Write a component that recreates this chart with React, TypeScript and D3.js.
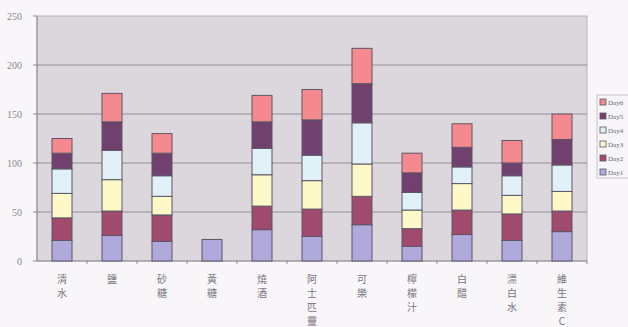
import React from "react";
import * as d3 from "d3";

const categories = ["清水", "鹽", "砂糖", "黃糖", "燒酒", "阿士匹靈", "可樂", "檸檬汁", "白醋", "漂白水", "維生素C"];
const seriesNames = ["Day1", "Day2", "Day3", "Day4", "Day5", "Day6"];
const day1 = [21, 26, 20, 22, 32, 25, 37, 15, 27, 21, 30];
const day2 = [23, 25, 27, 0, 24, 28, 29, 18, 25, 27, 21];
const day3 = [25, 32, 19, 0, 32, 29, 33, 19, 27, 19, 20];
const day4 = [25, 30, 21, 0, 27, 26, 42, 18, 17, 20, 27];
const day5 = [16, 29, 23, 0, 27, 36, 40, 20, 20, 13, 26];
const day6 = [15, 29, 20, 0, 27, 31, 36, 20, 24, 23, 26];
const yTicks = [0, 50, 100, 150, 200, 250];
const colors = ["#b0a9dc", "#a04a6e", "#fdf9c9", "#e0f1f8", "#70406e", "#f48a90"];

const W = 628;
const H = 327;
const plot = { left: 37, right: 587, top: 16, bottom: 261 };

export default function App() {
  const series = [day1, day2, day3, day4, day5, day6];
  const rows = categories.map((c, i) => {
    const r: Record<string, number | string> = { cat: c };
    seriesNames.forEach((s, k) => (r[s] = series[k][i]));
    return r;
  });
  const stacked = d3.stack<any>().keys(seriesNames)(rows);

  const x = d3.scaleBand<string>().domain(categories).range([plot.left, plot.right]).paddingInner(0.6).paddingOuter(0.3);
  const y = d3.scaleLinear().domain([0, 250]).range([plot.bottom, plot.top]);
  const step = x.step();

  return (
    <svg
      width={W}
      height={H}
      style={{ position: "fixed", left: 0, top: 0, background: "#f8f6f8" }}
      fontFamily="'Liberation Serif', serif"
    >
      <rect x={plot.left} y={plot.top} width={plot.right - plot.left} height={plot.bottom - plot.top} fill="#dcd6dd" stroke="#b8b2ba" />
      {yTicks.map((t) => (
        <g key={t}>
          {t > 0 && t < 250 && (
            <line x1={plot.left} x2={plot.right} y1={y(t)} y2={y(t)} stroke="#948f98" strokeWidth={1} />
          )}
          <line x1={plot.left - 4} x2={plot.left} y1={y(t)} y2={y(t)} stroke="#8f8a93" />
          <text x={22} y={y(t) + 3.5} fontSize={10} fill="#8a8590" textAnchor="end">
            {t}
          </text>
        </g>
      ))}
      <line x1={plot.left} x2={plot.left} y1={plot.top} y2={plot.bottom} stroke="#8f8a93" />
      <line x1={plot.left} x2={plot.right} y1={plot.bottom} y2={plot.bottom} stroke="#8f8a93" />
      {categories.map((c, i) => (
        <line
          key={"xt" + c}
          x1={plot.left + step * (i + 1)}
          x2={plot.left + step * (i + 1)}
          y1={plot.bottom}
          y2={plot.bottom + 3}
          stroke="#8f8a93"
        />
      ))}
      {stacked.map((layer, k) => (
        <g key={layer.key} fill={colors[k]} stroke="#5e5566" strokeWidth={1}>
          {layer.map((d, i) =>
            d[1] - d[0] > 0 ? (
              <rect
                key={i}
                x={x(categories[i])}
                y={y(d[1])}
                width={x.bandwidth()}
                height={y(d[0]) - y(d[1])}
              />
            ) : null
          )}
        </g>
      ))}
      {categories.map((c) =>
        Array.from(c).map((ch, j) => (
          <text
            key={"lbl" + c + j}
            x={(x(c) as number) + x.bandwidth() / 2}
            y={283 + j * 14}
            fontSize={10}
            fill="#7a7480"
            textAnchor="middle"
            fontFamily="'Noto Sans CJK TC', sans-serif"
          >
            {ch}
          </text>
        ))
      )}
      <g>
        <rect x={597} y={95} width={34} height={83} fill="#f7f5f7" stroke="#c8c4ca" />
        {seriesNames
          .slice()
          .reverse()
          .map((s, j) => {
            const k = seriesNames.length - 1 - j;
            const yy = 102 + j * 14;
            return (
              <g key={s}>
                <rect x={600} y={yy - 3} width={6} height={6} fill={colors[k]} stroke="#5e5566" strokeWidth={0.8} />
                <text x={608} y={yy + 2.5} fontSize={7} fill="#6a6570">
                  {s}
                </text>
              </g>
            );
          })}
      </g>
    </svg>
  );
}
